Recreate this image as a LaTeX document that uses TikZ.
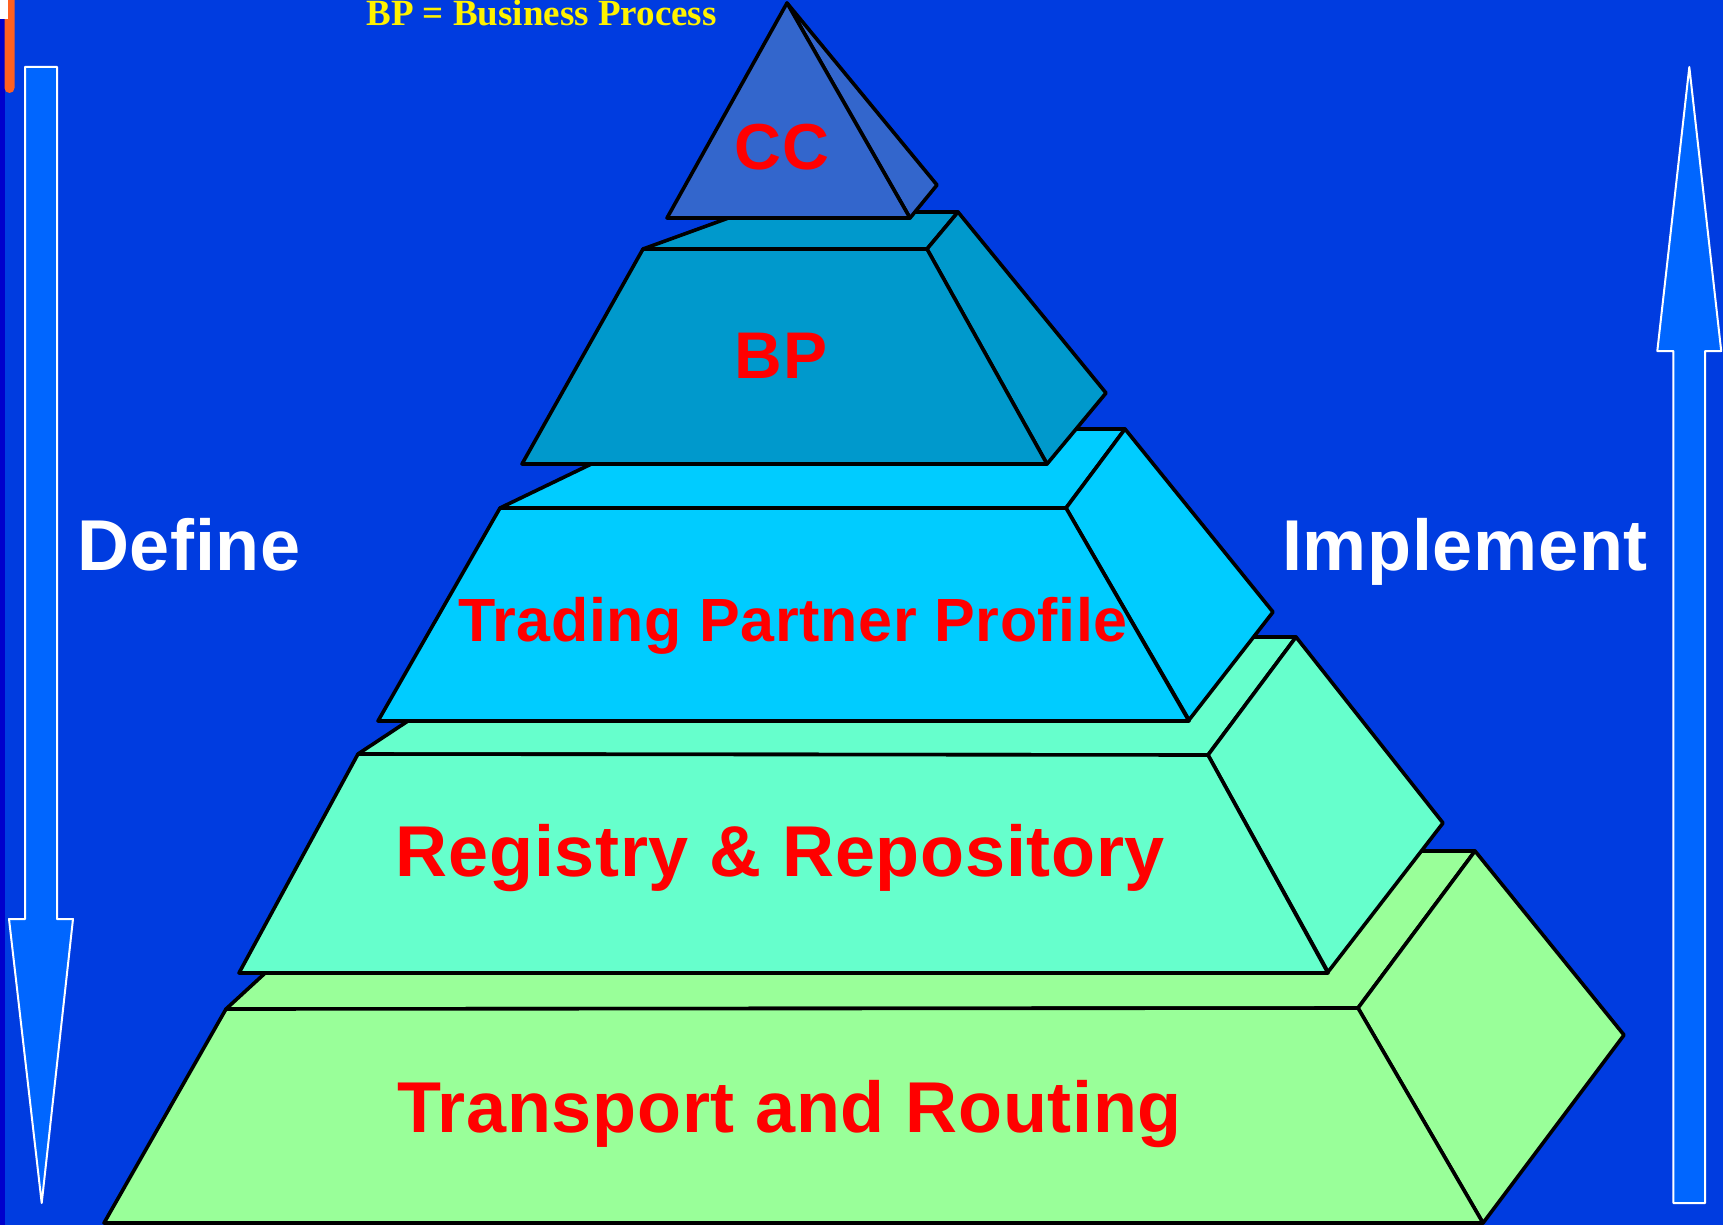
\documentclass[tikz,border=0pt]{standalone}
\usepackage{fontspec}
\setmainfont{Liberation Sans}[LetterSpace=1]
\newfontfamily\legendfont{Liberation Serif}
\definecolor{bgblue}{RGB}{0,60,224}
\definecolor{stripblue}{RGB}{0,0,204}
\definecolor{barorange}{RGB}{255,96,32}
\definecolor{arrowblue}{RGB}{0,102,255}
\definecolor{ccblue}{RGB}{51,102,204}
\definecolor{bpblue}{RGB}{0,153,204}
\definecolor{tppblue}{RGB}{0,204,255}
\definecolor{rrgreen}{RGB}{102,255,204}
\definecolor{trgreen}{RGB}{153,255,153}
\tikzset{
  face/.style={draw=black, line width=3.6pt, line join=round},
  bigarrow/.style={fill=arrowblue, draw=white, line width=2pt, line join=round},
  lbl/.style={text=red, font=\bfseries\fontsize{72}{80}\selectfont, anchor=base, inner sep=0pt},
  sidelbl/.style={text=white, font=\bfseries\fontsize{72}{80}\selectfont, anchor=base, inner sep=0pt},
}
\begin{document}
\begin{tikzpicture}[x=1pt,y=-1pt]
\useasboundingbox (0,0) rectangle (1723,1225);
\fill[bgblue] (0,0) rectangle (1723,1225);
\fill[stripblue] (0,0) rectangle (5,1225);
\fill[barorange, rounded corners=5pt] (4.5,-10) rectangle (14.5,93);
\fill[white] (0,0) rectangle (8,19);

% arrows
\draw[bigarrow] (25,67) -- (57,67) -- (57,919) -- (73,919) -- (41.7,1203) -- (9,919) -- (25,919) -- cycle;
\draw[bigarrow] (1673.3,1203) -- (1705,1203) -- (1705,351) -- (1721.2,351) -- (1689.3,67) -- (1657.3,351) -- (1673.3,351) -- cycle;

% Transport and Routing
\filldraw[face, fill=trgreen] (226,1009) -- (1358,1008) -- (1475,851) -- (398,851) -- cycle;
\filldraw[face, fill=trgreen] (1358,1008) -- (1475,851) -- (1624,1035) -- (1483,1223) -- cycle;
\filldraw[face, fill=trgreen] (226,1009) -- (1358,1008) -- (1483,1223) -- (104,1223) -- cycle;

% Registry & Repository
\filldraw[face, fill=rrgreen] (358,754) -- (1208,755) -- (1296,637) -- (535,637) -- cycle;
\filldraw[face, fill=rrgreen] (1208,755) -- (1296,637) -- (1443,823) -- (1328,972) -- cycle;
\filldraw[face, fill=rrgreen] (358,754) -- (1208,755) -- (1328,973) -- (239,973) -- cycle;

% Trading Partner Profile
\filldraw[face, fill=tppblue] (500,508) -- (1066,508) -- (1125,429) -- (664,429) -- cycle;
\filldraw[face, fill=tppblue] (1066,508) -- (1125,429) -- (1273,612) -- (1189,720) -- cycle;
\filldraw[face, fill=tppblue] (500,508) -- (1066,508) -- (1189,721) -- (378,721) -- cycle;

% BP
\filldraw[face, fill=bpblue] (643,249) -- (927,249) -- (958,212) -- (745,212) -- cycle;
\filldraw[face, fill=bpblue] (927,249) -- (958,212) -- (1106,393) -- (1047,464) -- cycle;
\filldraw[face, fill=bpblue] (643,249) -- (927,249) -- (1047,464) -- (522,464) -- cycle;

% CC
\filldraw[face, fill=ccblue] (787,3) -- (937,185) -- (910,218) -- cycle;
\filldraw[face, fill=ccblue] (787,3) -- (910,218) -- (667,218) -- cycle;

% labels
\node[lbl, font=\bfseries\fontsize{65}{72}\selectfont] (cc) at (782,170) {CC};
\node[lbl, font=\bfseries\fontsize{66}{72}\selectfont] (bp) at (781,378) {BP};
\node[lbl, font=\bfseries\fontsize{61}{70}\selectfont] (tpp) at (793,641) {Trading Partner Profile};
\node[lbl] (rr) at (780.5,876) {Registry \& Repository};
\node[lbl] (tr) at (789.5,1132) {Transport and Routing};
\node[sidelbl] (define) at (189,570) {Define};
\node[sidelbl] (implement) at (1465,570) {Implement};
\node[text=yellow, font=\legendfont\bfseries\fontsize{37}{40}\selectfont, anchor=base, inner sep=0pt] (legend) at (541.5,26) {BP = Business Process};
\end{tikzpicture}
\end{document}
